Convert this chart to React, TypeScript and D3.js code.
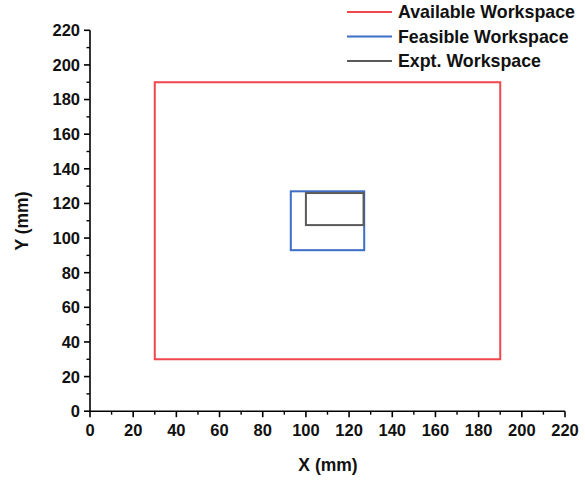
import React from "react";
import * as d3 from "d3";

// Workspace boundaries in mm: [xMin, xMax, yMin, yMax]
const workspaceNames = ["Available Workspace", "Feasible Workspace", "Expt. Workspace"];
const workspaceColors = ["#f0464c", "#3d6dc4", "#5a5a5a"];
const xMins = [30, 93, 100];
const xMaxs = [190, 127, 126.7];
const yMins = [30, 93, 107.5];
const yMaxs = [190, 127, 126];

const xTicks = [0, 20, 40, 60, 80, 100, 120, 140, 160, 180, 200, 220];
const yTicks = [0, 20, 40, 60, 80, 100, 120, 140, 160, 180, 200, 220];
const minorTicks = [10, 30, 50, 70, 90, 110, 130, 150, 170, 190, 210];

const W = 585;
const H = 480;
const font = "'Liberation Sans', Arial, sans-serif";

export default function App() {
  const x = d3.scaleLinear().domain([0, 220]).range([90, 565]);
  const y = d3.scaleLinear().domain([0, 220]).range([411.2, 30.3]);
  const x0 = x(0);
  const y0 = y(0);

  return (
    <svg
      width={W}
      height={H}
      style={{ position: "absolute", left: 0, top: 0, background: "#fff" }}
      fontFamily={font}
    >
      <rect width={W} height={H} fill="#fff" />

      {/* workspace outlines */}
      {workspaceNames.map((name, i) => (
        <rect
          key={name}
          x={x(xMins[i])}
          y={y(yMaxs[i])}
          width={x(xMaxs[i]) - x(xMins[i])}
          height={y(yMins[i]) - y(yMaxs[i])}
          fill="none"
          stroke={workspaceColors[i]}
          strokeWidth={2}
        />
      ))}

      {/* left axis */}
      <line x1={x0} x2={x0} y1={y(220)} y2={y0} stroke="#000" strokeWidth={1.6} />
      {yTicks.map((t) => (
        <g key={"y" + t}>
          <line x1={x0 - 6} x2={x0} y1={y(t)} y2={y(t)} stroke="#000" strokeWidth={1.6} />
          <text
            x={x0 - 10}
            y={y(t)}
            dy="0.36em"
            textAnchor="end"
            fontSize={16.5}
            fontWeight="bold"
            fill="#111"
          >
            {t}
          </text>
        </g>
      ))}
      {minorTicks.map((t) => (
        <line key={"ym" + t} x1={x0 - 3.5} x2={x0} y1={y(t)} y2={y(t)} stroke="#000" strokeWidth={1.4} />
      ))}

      {/* bottom axis */}
      <line x1={x0} x2={x(220)} y1={y0} y2={y0} stroke="#000" strokeWidth={1.6} />
      {xTicks.map((t) => (
        <g key={"x" + t}>
          <line x1={x(t)} x2={x(t)} y1={y0} y2={y0 + 6} stroke="#000" strokeWidth={1.6} />
          <text
            x={x(t)}
            y={y0 + 25}
            textAnchor="middle"
            fontSize={16.5}
            fontWeight="bold"
            fill="#111"
          >
            {t}
          </text>
        </g>
      ))}
      {minorTicks.map((t) => (
        <line key={"xm" + t} x1={x(t)} x2={x(t)} y1={y0} y2={y0 + 3.5} stroke="#000" strokeWidth={1.4} />
      ))}

      {/* axis titles */}
      <text x={328} y={471} textAnchor="middle" fontSize={17.5} fontWeight="bold" fill="#111">
        X (mm)
      </text>
      <text
        transform={`translate(28,221) rotate(-90)`}
        textAnchor="middle"
        fontSize={17.5}
        fontWeight="bold"
        fill="#111"
      >
        Y (mm)
      </text>

      {/* legend */}
      {workspaceNames.map((name, i) => (
        <g key={"lg" + name} transform={`translate(0,${12 + i * 24.5})`}>
          <line x1={347} x2={392} y1={0} y2={0} stroke={workspaceColors[i]} strokeWidth={2} />
          <text x={398} y={0} dy="0.36em" fontSize={17.8} fontWeight="bold" fill="#111">
            {name}
          </text>
        </g>
      ))}
    </svg>
  );
}
